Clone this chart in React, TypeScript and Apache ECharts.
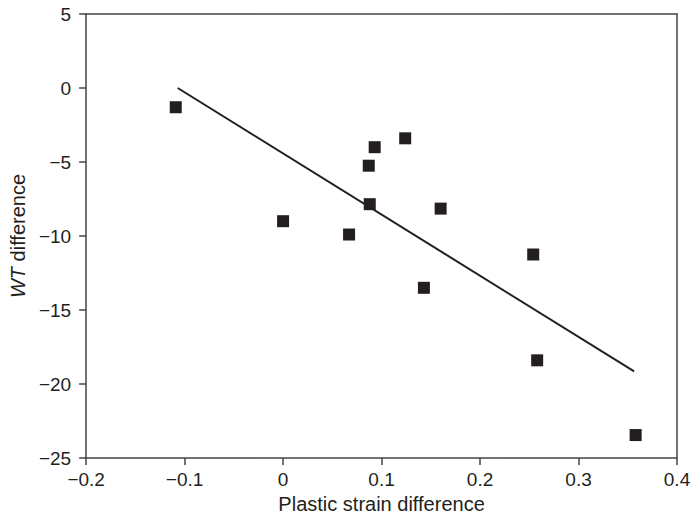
import React, { useEffect, useRef } from "react";
import * as echarts from "echarts";

const strainDiff = [-0.109, 0.0, 0.067, 0.087, 0.093, 0.088, 0.124, 0.16, 0.143, 0.254, 0.258, 0.358];
const wtDiff = [-1.3, -9.0, -9.9, -5.25, -4.0, -7.85, -3.4, -8.15, -13.5, -11.25, -18.4, -23.45];
const fitX = [-0.107, 0.3565];
const fitY = [0.0, -19.15];

const INK = "#231f20";
const FONT = "'Liberation Sans', Arial, Helvetica, sans-serif";

export default function App() {
  const ref = useRef<HTMLDivElement>(null);
  useEffect(() => {
    if (!ref.current) return;
    const chart = echarts.init(ref.current, undefined, { renderer: "svg" });
    const axisLine = { show: true, onZero: false, lineStyle: { color: "#444", width: 1.5 } };
    chart.setOption({
      animation: false,
      backgroundColor: "#fff",
      textStyle: { fontFamily: FONT },
      grid: { left: 81, right: 17, top: 14, bottom: 60, containLabel: false },
      xAxis: [
        {
          type: "value",
          min: -0.2,
          max: 0.4,
          interval: 0.1,
          position: "bottom",
          name: "Plastic strain difference",
          nameLocation: "middle",
          nameGap: 36,
          nameTextStyle: { fontSize: 20, color: INK, fontFamily: FONT },
          axisLine,
          axisTick: { show: true, inside: false, length: 7, lineStyle: { color: "#444", width: 1.5 } },
          axisLabel: {
            fontSize: 19,
            color: INK,
            fontFamily: FONT,
            margin: 12,
            formatter: (v: number) => {
              const r = Math.round(v * 10) / 10;
              const s = r === 0 ? "0" : String(Math.abs(r));
              return r < 0 ? "\u2212" + s : s;
            },
          },
          splitLine: { show: false },
        },
        {
          type: "value",
          min: -0.2,
          max: 0.4,
          position: "top",
          axisLine,
          axisTick: { show: false },
          axisLabel: { show: false },
          splitLine: { show: false },
        },
      ],
      yAxis: [
        {
          type: "value",
          min: -25,
          max: 5,
          interval: 5,
          position: "left",
          name: "{i|WT} difference",
          nameLocation: "middle",
          nameRotate: 90,
          nameGap: 53,
          nameTextStyle: {
            fontSize: 20,
            color: INK,
            fontFamily: FONT,
            rich: {
              i: { fontSize: 20, fontStyle: "italic", color: INK, fontFamily: FONT },
            },
          },
          axisLine,
          axisTick: { show: true, inside: false, length: 7, lineStyle: { color: "#444", width: 1.5 } },
          axisLabel: {
            fontSize: 19,
            color: INK,
            fontFamily: FONT,
            margin: 15,
            formatter: (v: number) => (v < 0 ? "\u2212" + Math.abs(v) : String(v)),
          },
          splitLine: { show: false },
        },
        {
          type: "value",
          min: -25,
          max: 5,
          position: "right",
          axisLine,
          axisTick: { show: false },
          axisLabel: { show: false },
          splitLine: { show: false },
        },
      ],
      series: [
        {
          type: "line",
          data: fitX.map((x, i) => [x, fitY[i]]),
          showSymbol: false,
          symbol: "none",
          lineStyle: { color: INK, width: 2 },
          z: 2,
        },
        {
          type: "scatter",
          data: strainDiff.map((x, i) => [x, wtDiff[i]]),
          symbol: "rect",
          symbolSize: 12,
          itemStyle: { color: INK, opacity: 1 },
          z: 3,
        },
      ],
    });
    return () => chart.dispose();
  }, []);
  return <div ref={ref} style={{ width: 694, height: 519, position: "absolute", left: 0, top: 0 }} />;
}
